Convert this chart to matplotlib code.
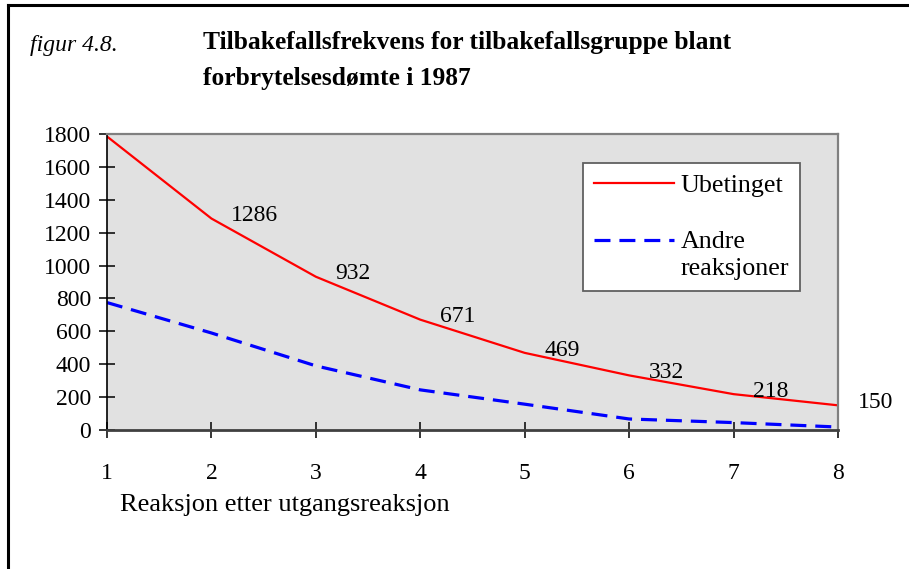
import matplotlib
matplotlib.use("Agg")

import matplotlib.pyplot as plt
from matplotlib.lines import Line2D
from matplotlib.legend_handler import HandlerLine2D

# data
reactions = [1, 2, 3, 4, 5, 6, 7, 8]
ubetinget = [1785, 1286, 932, 671, 469, 332, 218, 150]
andre = [775, 590, 390, 244, 157, 67, 45, 18]
labelled = [False, True, True, True, True, True, True, True]
y_ticks = [0, 200, 400, 600, 800, 1000, 1200, 1400, 1600, 1800]

plt.rcParams["font.family"] = ["Liberation Serif", "DejaVu Serif"]
FS = 17
LEG_FS = 18.7


class FirstLineHandler(HandlerLine2D):
    """Put the legend line next to the first line of a two-line label."""

    def __init__(self, shift=0.0, **kw):
        super().__init__(**kw)
        self.shift = shift

    def create_artists(self, legend, orig_handle, xdescent, ydescent,
                       width, height, fontsize, trans):
        artists = super().create_artists(legend, orig_handle, xdescent, ydescent,
                                         width, height, fontsize, trans)
        for a in artists:
            a.set_ydata([y + self.shift for y in a.get_ydata()])
        return artists


fig = plt.figure(figsize=(9.09, 5.69), dpi=100)
ax = fig.add_axes([0.1177, 0.2443, 0.8042, 0.5202])
ax.set_facecolor("#e1e1e1")

red, = ax.plot(reactions, ubetinget, color="#ff0000", lw=1.6, label="Ubetinget")
blue, = ax.plot(reactions, andre, color="#0000ff", lw=2.3, dashes=(5, 2.8),
                label="Andre\nreaksjoner")

# value labels on the red line (first point is not labelled)
for x, y, show in zip(reactions, ubetinget, labelled):
    if show:
        ax.annotate(str(y), (x, y), xytext=(14, 2), textcoords="offset points",
                    ha="left", va="center", fontsize=FS)

ax.set_xlim(1, 8)
ax.set_ylim(0, 1800)
ax.set_xticks(reactions)
ax.set_yticks(y_ticks)
ax.tick_params(axis="both", direction="inout", length=11, width=1.1,
               labelsize=FS, colors="black")
ax.tick_params(axis="x", pad=18)
ax.tick_params(axis="y", pad=6)

for side in ("top", "right"):
    ax.spines[side].set_color("#808080")
    ax.spines[side].set_linewidth(1.6)
ax.spines["bottom"].set_color("#404040")
ax.spines["bottom"].set_linewidth(2)
ax.spines["left"].set_color("black")
ax.spines["left"].set_linewidth(1.2)

leg = ax.legend(handles=[red, blue], loc="upper left", bbox_to_anchor=(0.651, 0.902),
                borderaxespad=0, fontsize=LEG_FS, fancybox=False, framealpha=1,
                edgecolor="#606060", borderpad=0.42, handlelength=3.1,
                handletextpad=0.23, labelspacing=1.3,
                handler_map={blue: FirstLineHandler(shift=10.5)})
leg.get_frame().set_linewidth(1.3)
leg.get_texts()[1].set_linespacing(1.3)

fig.text(30 / 909, 1 - 45 / 569, "figur 4.8.", fontsize=FS, style="italic",
         va="center", ha="left")
fig.text(203 / 909, 1 - 43 / 569, "Tilbakefallsfrekvens for tilbakefallsgruppe blant",
         fontsize=18.4, fontweight="bold", va="center", ha="left")
fig.text(203 / 909, 1 - 78 / 569, "forbrytelsesdømte i 1987",
         fontsize=18.4, fontweight="bold", va="center", ha="left")
fig.text(120 / 909, 1 - 505 / 569, "Reaksjon etter utgangsreaksjon",
         fontsize=19, va="center", ha="left")

# frame around the figure (left and top edges visible)
fig.add_artist(Line2D([8 / 909, 8 / 909], [0, 1 - 5 / 569], color="black", lw=2.2,
                      transform=fig.transFigure))
fig.add_artist(Line2D([8 / 909, 1], [1 - 5 / 569, 1 - 5 / 569], color="black", lw=2.2,
                      transform=fig.transFigure))

fig.savefig("out.png", dpi=100)
